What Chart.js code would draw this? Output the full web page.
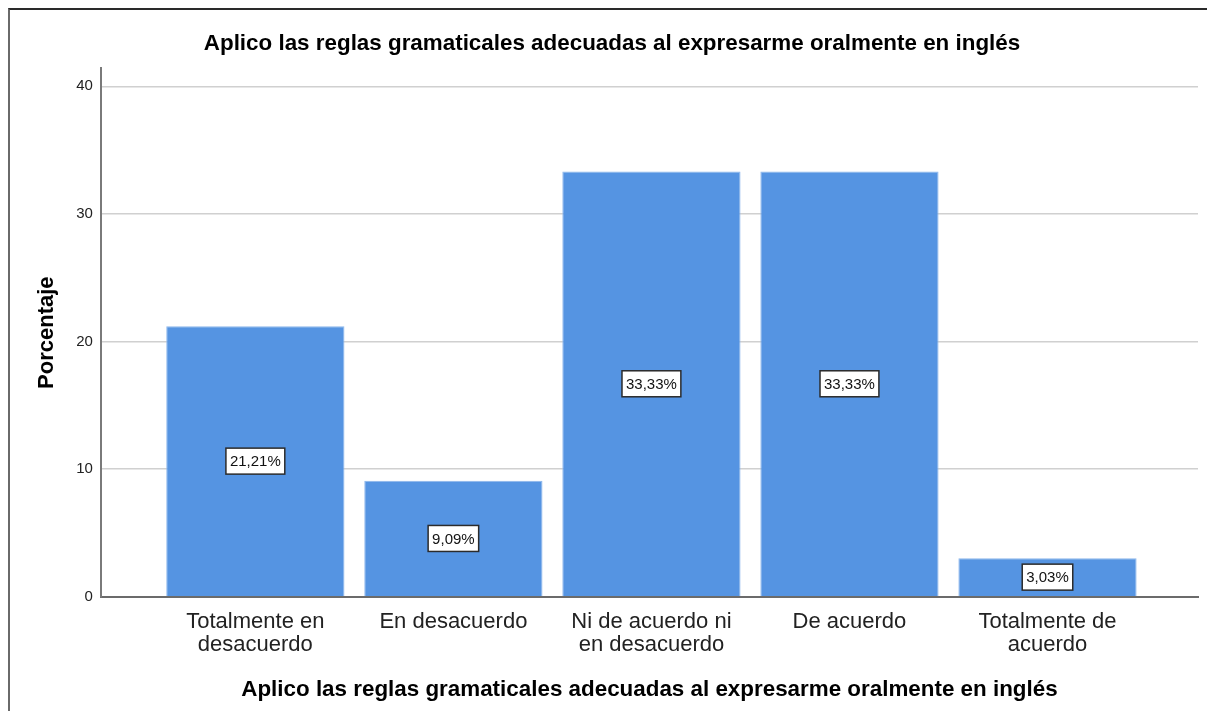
<!DOCTYPE html>
<html>
<head>
<meta charset="utf-8">
<script src="https://cdn.jsdelivr.net/npm/chart.js@4/dist/chart.umd.min.js"></script>
<style>
  html, body { margin: 0; padding: 0; background: #fff; overflow: hidden; }
  #wrap { position: relative; width: 1207px; height: 711px; }
  #frame { position: absolute; left: 8px; top: 8px; width: 1300px; height: 800px;
           border-top: 2px solid #2a2a2a; border-left: 2px solid #6a6a6a; pointer-events: none; }
</style>
</head>
<body>
<div id="wrap">
  <canvas id="c"></canvas>
  <div id="frame"></div>
</div>
<script>
const chartTitle = "Aplico las reglas gramaticales adecuadas al expresarme oralmente en inglés";
const categories = [
  ["Totalmente en", "desacuerdo"],
  ["En desacuerdo"],
  ["Ni de acuerdo ni", "en desacuerdo"],
  ["De acuerdo"],
  ["Totalmente de", "acuerdo"]
];
const percentages = [21.21, 9.09, 33.33, 33.33, 3.03];
const yTicks = [0, 10, 20, 30, 40];
const yAxisTitle = "Porcentaje";

const FONT = "'Liberation Sans', Arial, Helvetica, sans-serif";

const labelPlugin = {
  id: 'boxLabels',
  afterDatasetsDraw(chart) {
    const ctx = chart.ctx;
    const meta = chart.getDatasetMeta(0);
    ctx.save();
    ctx.font = "15px " + FONT;
    ctx.textAlign = 'center';
    ctx.textBaseline = 'middle';
    meta.data.forEach((el, i) => {
      const v = percentages[i];
      const txt = v.toFixed(2).replace('.', ',') + '%';
      const cx = el.x;
      const cy = (el.y + el.base) / 2;
      const w = ctx.measureText(txt).width + 8;
      const h = 26;
      ctx.fillStyle = '#ffffff';
      ctx.fillRect(cx - w / 2, cy - h / 2, w, h);
      ctx.strokeStyle = '#2b2b2b';
      ctx.lineWidth = 1.5;
      ctx.strokeRect(cx - w / 2, cy - h / 2, w, h);
      ctx.fillStyle = '#111';
      ctx.fillText(txt, cx, cy + 1);
    });
    ctx.restore();
  }
};

new Chart(document.getElementById('c'), {
  type: 'bar',
  data: {
    datasets: [{
      data: percentages.map((v, i) => ({ x: i, y: v })),
      backgroundColor: '#5594e2',
      borderColor: '#8db7ec',
      borderWidth: 1,
      categoryPercentage: 1.0,
      barPercentage: 0.9
    }]
  },
  options: {
    responsive: true,
    maintainAspectRatio: false,
    animation: false,
    layout: { padding: { left: 26, right: 9, top: 30, bottom: 8 } },
    plugins: {
      legend: { display: false },
      tooltip: { enabled: false },
      title: {
        display: true,
        text: chartTitle,
        color: '#000',
        font: { family: FONT, size: 22.4, weight: 'bold' },
        padding: { top: 0, bottom: 11.6 }
      }
    },
    scales: {
      x: {
        type: 'linear',
        offset: false,
        min: -0.78,
        max: 4.76,
        grid: { display: false, drawTicks: false },
        border: { display: true, color: '#6b6b6b', width: 2 },
        afterBuildTicks: s => { s.ticks = categories.map((c, i) => ({ value: i })); },
        ticks: {
          autoSkip: false,
          maxRotation: 0,
          padding: 13.5,
          color: '#222',
          font: { family: FONT, size: 22, lineHeight: 1.045 },
          callback: (v) => categories[v]
        },
        title: {
          display: true,
          text: chartTitle,
          color: '#000',
          font: { family: FONT, size: 22.4, weight: 'bold' },
          padding: { top: 6.3, bottom: 0 }
        }
      },
      y: {
        min: 0,
        max: 41.4,
        afterBuildTicks: s => { s.ticks = yTicks.map(v => ({ value: v })); },
        grid: { color: '#d0d0d0', lineWidth: 1.5, drawTicks: false },
        border: { display: true, color: '#7a7a7a', width: 2 },
        ticks: {
          padding: 8,
          color: '#222',
          font: { family: FONT, size: 15 }
        },
        title: {
          display: true,
          text: yAxisTitle,
          color: '#000',
          font: { family: FONT, size: 22, weight: 'bold' },
          padding: { top: 8, bottom: 7.8 }
        }
      }
    }
  },
  plugins: [labelPlugin]
});
</script>
</body>
</html>
